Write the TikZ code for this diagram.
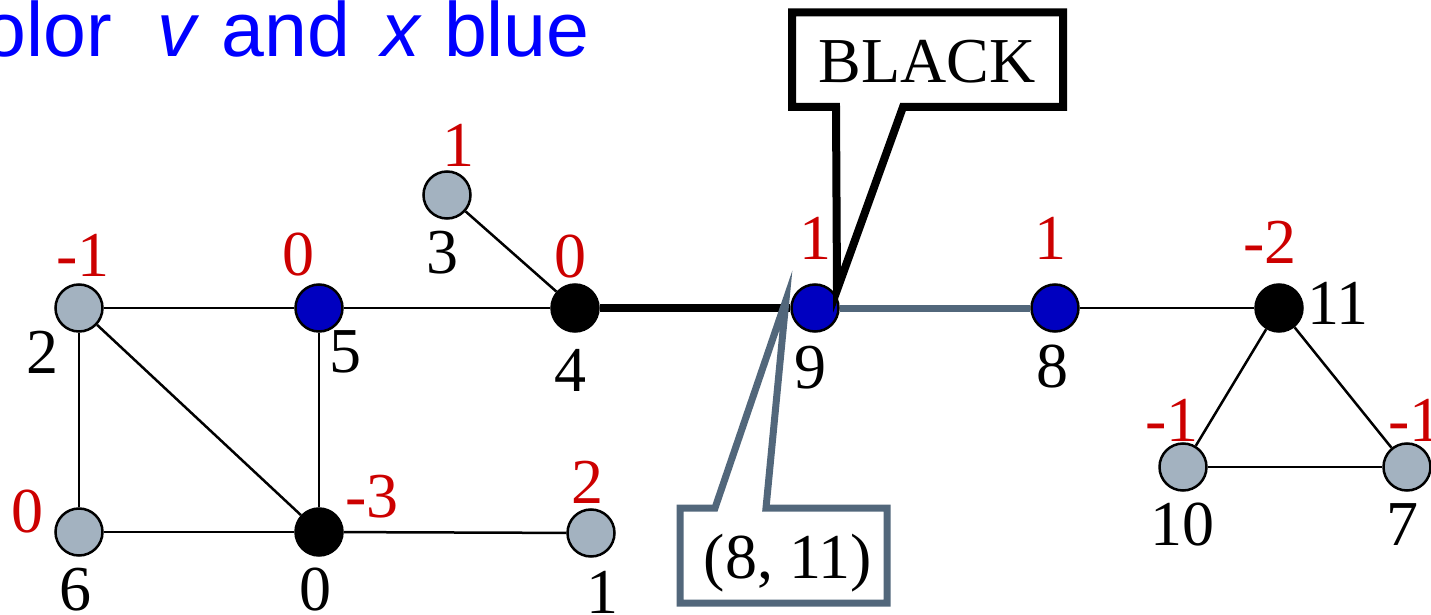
\documentclass[tikz,border=0pt]{standalone}
\usepackage{fontspec}
\setmainfont{Liberation Serif}
\newfontfamily\arialfont{Liberation Sans}
\definecolor{nodegray}{HTML}{A3B2C0}
\definecolor{nodeblue}{HTML}{0000C0}
\definecolor{numred}{HTML}{CC0000}
\definecolor{slate}{HTML}{52677B}
\definecolor{titleblue}{HTML}{0000FF}
\begin{document}
\begin{tikzpicture}[x=0.5pt,y=-0.5pt,
  vtx/.style={circle,draw=black,line width=1.25pt,minimum size=23.5pt,inner sep=0pt},
  grayv/.style={vtx,fill=nodegray},
  bluev/.style={vtx,fill=nodeblue},
  blackv/.style={vtx,fill=black},
  idlab/.style={font=\fontsize{32}{32}\selectfont,inner sep=0pt,text=black},
  wlab/.style={idlab,text=numred},
  edgeline/.style={line width=1.25pt,draw=black},
  callbox/.style={fill=white,line join=miter}]
\useasboundingbox (0,0) rectangle (1431,615);
\clip (0,0) rectangle (1431,615);

% title
\node[anchor=base east,text=titleblue,inner sep=0pt,
  font=\arialfont\fontsize{38.5}{40}\selectfont] (title) at (590,57)
  {Color\hspace{23pt}\textit{v} and\hspace{16pt}\textit{x} blue};

% vertices
\node[blackv] (n0) at (319,532) {};
\node[grayv]  (n1) at (591,533) {};
\node[grayv]  (n2) at (79,308) {};
\node[grayv]  (n3) at (447,195) {};
\node[blackv] (n4) at (575,308) {};
\node[bluev]  (n5) at (319,308) {};
\node[grayv]  (n6) at (79,532) {};
\node[grayv]  (n7) at (1407,467) {};
\node[bluev]  (n8) at (1055,308) {};
\node[bluev]  (n9) at (815,308) {};
\node[grayv]  (n10) at (1183,467) {};
\node[blackv] (n11) at (1279,308) {};

% edges
\draw[edgeline] (n2) -- (n5);
\draw[edgeline] (n2) -- (n6);
\draw[edgeline] (n2) -- (n0);
\draw[edgeline] (n5) -- (n0);
\draw[edgeline] (n6) -- (n0);
\draw[edgeline] (n0) -- (n1);
\draw[edgeline] (n5) -- (n4);
\draw[edgeline] (n3) -- (n4);
\draw[line width=3.75pt,draw=black] (n4) -- (n9);
\draw[line width=3.5pt,draw=slate] (n9) -- (n8);
\draw[edgeline] (n8) -- (n11);
\draw[edgeline] (n11) -- (n10);
\draw[edgeline] (n11) -- (n7);
\draw[edgeline] (n10) -- (n7);

% vertex ids
\node[idlab] (l2) at (42,352) {2};
\node[idlab] (l5) at (345,352) {5};
\node[idlab] (l6) at (75,590) {6};
\node[idlab] (l0) at (315,590) {0};
\node[idlab] (l1) at (602,592) {1};
\node[idlab] (l3) at (442,253) {3};
\node[idlab] (l4) at (570,370) {4};
\node[idlab] (l9) at (810,368) {9};
\node[idlab] (l8) at (1052,367) {8};
\node[idlab] (l11) at (1338,303) {11};
\node[idlab] (l10) at (1182,525) {10};
\node[idlab] (l7) at (1402,525) {7};

% red values
\node[wlab] (w2) at (83,255) {-1};
\node[wlab] (w5) at (298,255) {0};
\node[wlab] (w6) at (27,512) {0};
\node[wlab] (w0) at (372,497) {-3};
\node[wlab] (w1) at (587,482) {2};
\node[wlab] (w3) at (458,145) {1};
\node[wlab] (w4) at (570,257) {0};
\node[wlab] (w9) at (815,238) {1};
\node[wlab] (w8) at (1050,238) {1};
\node[wlab] (w11) at (1270,242) {-2};
\node[wlab] (w10) at (1172,420) {-1};
\node[wlab] (w7) at (1415,420) {-1};

% callout BLACK
\coordinate (tipB) at (837,290);
\draw[callbox,line width=4pt,draw=black]
  (792,12.5) -- (1063,12.5) -- (1063,107) -- (903,107) -- (tipB)
  -- (836,107) -- (792,107) -- cycle;
\node[idlab] (black) at (927,62) {BLACK};

% callout (8, 11)
\coordinate (tipS) at (786,300);
\draw[callbox,line width=3.5pt,draw=slate]
  (680,508) -- (715,508) -- (tipS) -- (766,508) -- (887,508)
  -- (887,603) -- (680,603) -- cycle;
\node[idlab] (pair) at (788,563) {(8, 11)};
\end{tikzpicture}
\end{document}
